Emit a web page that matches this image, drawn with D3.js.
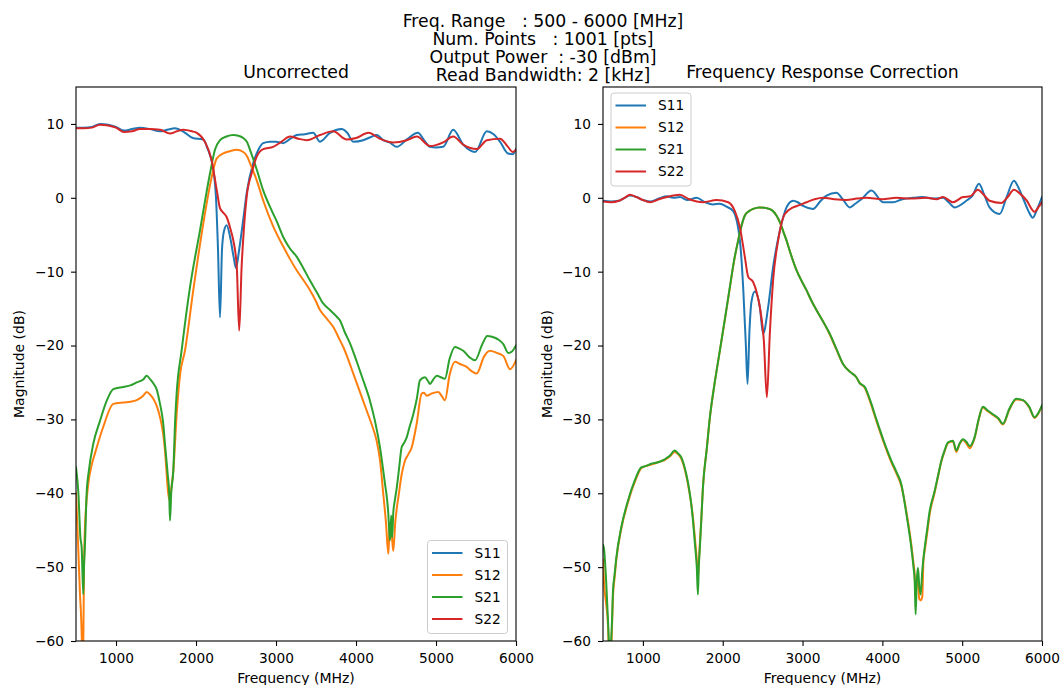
<!DOCTYPE html>
<html><head><meta charset="utf-8">
<script src="https://cdn.jsdelivr.net/npm/d3@7"></script>
<style>
body{margin:0;background:#fff}
text{font-family:"DejaVu Sans",sans-serif;fill:#000}
</style>
</head><body>
<svg id="chart" width="1062" height="685"></svg>
<script>
// ---------- chart texts ----------
const titleLines = [
  "Freq. Range   : 500 - 6000 [MHz]",
  "Num. Points   : 1001 [pts]",
  "Output Power  : -30 [dBm]",
  "Read Bandwidth: 2 [kHz]"
];
const panelTitles = ["Uncorrected", "Frequency Response Correction"];
const xLabel = "Frequency (MHz)";
const yLabel = "Magnitude (dB)";
const freqTicks = [1000, 2000, 3000, 4000, 5000, 6000];
const magTicks = [-60, -50, -40, -30, -20, -10, 0, 10];
const seriesNames = ["S11", "S12", "S21", "S22"];
const seriesColors = ["#1f77b4", "#ff7f0e", "#2ca02c", "#d62728"];

// ---------- data: [frequency MHz, magnitude dB] ----------
const uncS11 = [[500,9.5],[600,9.5],[700,9.6],[800,10.0],[900,9.9],[1000,9.6],[1100,9.1],[1200,9.3],[1300,9.5],[1425,9.3],[1550,9.0],[1640,9.2],[1737,9.4],[1850,8.9],[1960,8.1],[2090,7.9],[2150,6.5],[2210,4.2],[2250,0.0],[2275,-7],[2300,-16.2],[2325,-7],[2350,-4.5],[2383,-3.7],[2430,-5.5],[2470,-8],[2500,-9.5],[2540,-7],[2590,-3],[2633,0.6],[2715,4.7],[2780,6.5],[2840,7.4],[2925,7.6],[3000,7.6],[3090,7.4],[3180,8.0],[3260,8.5],[3360,8.6],[3465,8.8],[3550,7.6],[3675,8.8],[3820,9.3],[3890,8.8],[3965,7.6],[4090,7.8],[4180,8.2],[4260,8.5],[4340,7.8],[4420,7.5],[4510,6.9],[4635,7.9],[4775,8.8],[4850,7.8],[4925,6.9],[5000,6.8],[5090,6.9],[5215,9.2],[5340,7.2],[5490,6.2],[5635,9.0],[5720,8.6],[5800,7.6],[5900,6.0],[5960,5.9],[6000,6.6]];
const uncS12 = [[500,-40],[530,-48],[550,-53.7],[565,-57],[575,-61],[580,-65],[590,-62],[600,-50],[612,-44.6],[654,-38.7],[700,-36],[737,-34.6],[841,-31],[966,-27.9],[1091,-27.7],[1180,-27.6],[1258,-27.4],[1340,-26.8],[1383,-26.3],[1430,-26.7],[1466,-27.2],[1510,-28.2],[1550,-29.7],[1590,-32],[1612,-34.2],[1654,-40.1],[1675,-41],[1695,-39],[1716,-37],[1760,-29],[1800,-24],[1862,-20.7],[1966,-12.5],[2091,-3.5],[2196,2.8],[2258,5.3],[2341,6.0],[2420,6.3],[2508,6.5],[2591,6.2],[2640,5.6],[2675,4.7],[2758,2.4],[2841,-0.4],[2966,-3.9],[3091,-6.6],[3170,-8.2],[3258,-9.8],[3340,-11.1],[3425,-12.5],[3490,-13.8],[3550,-15.2],[3630,-16.3],[3716,-17.5],[3800,-19.3],[3841,-20.2],[3900,-21.8],[3966,-23.8],[4050,-26.3],[4133,-28.8],[4200,-30.8],[4258,-32.9],[4300,-35.5],[4341,-40.1],[4375,-44],[4404,-48.2],[4418,-45],[4430,-44],[4450,-46],[4466,-47.8],[4490,-44],[4510,-42],[4529,-40.6],[4570,-37.5],[4612,-35.6],[4650,-34.8],[4696,-33.8],[4758,-30.6],[4821,-26.5],[4850,-26.4],[4883,-26.8],[4946,-26.5],[5029,-26.3],[5070,-26.8],[5112,-27.4],[5170,-24],[5237,-22.2],[5300,-22.5],[5383,-22.9],[5450,-23.5],[5508,-23.8],[5600,-21.5],[5675,-20.7],[5760,-21],[5841,-21.4],[5925,-23.2],[6000,-22]];
const uncS21 = [[500,-36.5],[530,-40],[555,-46],[571,-47.4],[591,-53.7],[600,-50],[612,-47],[633,-40],[660,-37],[716,-33.3],[800,-30.2],[883,-27.5],[966,-25.9],[1091,-25.6],[1180,-25.4],[1258,-25.0],[1340,-24.6],[1383,-24.1],[1430,-24.6],[1466,-25.1],[1510,-26],[1550,-27.9],[1590,-30.5],[1612,-33.3],[1646,-37.4],[1665,-40],[1675,-43.7],[1690,-40],[1716,-37],[1740,-30],[1758,-26.5],[1820,-20.7],[1925,-12.1],[2050,-4.4],[2175,3.3],[2237,6.5],[2300,7.8],[2380,8.3],[2465,8.5],[2530,8.4],[2590,8.1],[2640,7.5],[2675,6.5],[2760,3.8],[2840,1.0],[2945,-1.7],[3010,-3.2],[3090,-5.3],[3170,-6.8],[3260,-8.0],[3340,-9.5],[3425,-11.2],[3510,-12.8],[3590,-14.3],[3675,-15.2],[3760,-16.1],[3800,-16.6],[3860,-18.2],[3925,-19.7],[4010,-22.2],[4090,-24.7],[4170,-27.3],[4237,-30.2],[4300,-33.8],[4362,-38.7],[4390,-41],[4404,-42.8],[4415,-45],[4425,-46.4],[4440,-43],[4452,-46],[4465,-42.8],[4485,-41],[4510,-39.2],[4540,-36.5],[4570,-33.8],[4600,-33.2],[4635,-32.4],[4670,-31],[4716,-29.3],[4760,-27.2],[4800,-24.7],[4862,-24.3],[4900,-24.8],[4925,-25.2],[4965,-24.6],[5010,-24.1],[5060,-24.3],[5112,-24.5],[5170,-21.8],[5237,-20.2],[5290,-20.4],[5341,-20.7],[5420,-21.6],[5487,-22.0],[5580,-19.8],[5640,-18.7],[5700,-18.8],[5780,-19.2],[5841,-19.8],[5904,-21.0],[5950,-20.8],[6000,-20]];
const uncS22 = [[500,9.4],[600,9.4],[700,9.5],[800,9.9],[900,9.8],[1000,9.5],[1100,8.9],[1200,9.0],[1300,9.3],[1425,9.3],[1550,9.2],[1675,8.7],[1760,9.0],[1840,9.2],[1950,9.0],[2010,8.8],[2110,7.6],[2195,5.1],[2260,1.0],[2300,-1.4],[2340,-2.0],[2383,-2.6],[2430,-4.2],[2465,-5.7],[2510,-9.4],[2540,-18.0],[2570,-9.4],[2600,-4],[2633,0.1],[2695,3.3],[2760,5.6],[2840,6.6],[2965,6.9],[3070,7.6],[3175,8.3],[3280,8.0],[3385,7.8],[3550,8.5],[3715,9.0],[3885,7.9],[4000,8.1],[4155,8.8],[4300,8.0],[4465,7.5],[4635,7.8],[4760,8.3],[4925,7.0],[5090,7.5],[5215,8.3],[5340,7.2],[5510,6.6],[5635,7.8],[5800,8.0],[5900,6.9],[5960,6.2],[6000,6.5]];

const corS11 = [[500,-0.4],[600,-0.5],[700,-0.4],[770,0.0],[838,0.3],[920,0.1],[1000,-0.3],[1088,-0.5],[1200,-0.1],[1300,0.2],[1380,0.0],[1464,0.1],[1560,-0.3],[1673,0.0],[1780,-0.6],[1880,-0.9],[1960,-0.8],[2048,-1.2],[2131,-1.8],[2215,-5.8],[2256,-12.1],[2290,-20],[2311,-25.2],[2335,-18],[2361,-14],[2402,-12.7],[2465,-14.8],[2506,-18.4],[2569,-14.8],[2631,-9.4],[2715,-4.5],[2799,-1.3],[2882,-0.4],[2940,-0.6],[3007,-1.1],[3132,-1.5],[3220,-0.5],[3300,0.3],[3425,0.7],[3510,-0.3],[3591,-1.3],[3660,-0.8],[3738,-0.2],[3863,1.0],[4008,-0.6],[4133,-0.6],[4250,-0.2],[4384,0.0],[4500,0.1],[4640,-0.1],[4759,0.0],[4830,-0.6],[4906,-1.3],[5052,-0.4],[5130,0.3],[5210,1.9],[5280,0.3],[5343,-1.3],[5469,-2.2],[5560,0.2],[5648,2.3],[5700,1.5],[5760,0.0],[5830,-1.8],[5885,-2.7],[5940,-1.5],[6000,0.1]];
const corS12 = [[500,-49],[512,-52],[540,-55],[563,-58],[575,-62],[583,-63],[600,-62],[613,-58],[625,-54],[645,-51.5],[667,-49],[729,-44.8],[813,-41.2],[897,-38.5],[979,-36.6],[1040,-36.3],[1104,-36.1],[1190,-35.8],[1272,-35.5],[1340,-35.0],[1397,-34.4],[1440,-34.7],[1480,-35.3],[1510,-36.2],[1543,-37.6],[1580,-39.7],[1605,-41.4],[1630,-43.6],[1655,-46.5],[1675,-49],[1689,-51.5],[1700,-49.5],[1710,-47.5],[1730,-43.8],[1752,-39.2],[1800,-34],[1839,-29.8],[1900,-25],[1964,-20.7],[2030,-16.3],[2089,-12.2],[2140,-8.7],[2193,-5.8],[2240,-3.6],[2277,-2.4],[2330,-1.8],[2381,-1.5],[2460,-1.3],[2548,-1.4],[2620,-1.7],[2673,-2.4],[2720,-3.4],[2757,-4.5],[2800,-5.8],[2840,-7.2],[2924,-9.8],[3049,-12.5],[3110,-13.9],[3174,-15.2],[3260,-16.8],[3341,-18.5],[3430,-20.7],[3507,-22.5],[3600,-23.6],[3674,-24.3],[3717,-25.1],[3779,-25.7],[3850,-27.7],[3925,-30.2],[4020,-33.2],[4113,-35.8],[4180,-37.4],[4238,-39],[4301,-42.5],[4363,-47],[4390,-49.5],[4405,-51],[4417,-54],[4430,-51.5],[4446,-52],[4462,-54.3],[4480,-54.5],[4500,-54],[4515,-49],[4530,-47.8],[4560,-45.5],[4593,-42.8],[4655,-39.9],[4700,-37.6],[4739,-35.7],[4780,-34.3],[4822,-33.2],[4884,-33.0],[4927,-34.4],[4970,-33.3],[5009,-32.8],[5050,-33.2],[5093,-33.9],[5156,-32.5],[5210,-29.9],[5260,-28.4],[5320,-28.9],[5385,-29.4],[5450,-29.9],[5510,-30.7],[5590,-28.7],[5677,-27.3],[5760,-27.4],[5840,-28.4],[5907,-29.8],[5950,-29.3],[6000,-28.2]];
const corS21 = [[500,-47],[512,-47.5],[540,-52],[563,-57.3],[575,-60.5],[583,-62],[595,-61],[613,-57.3],[625,-53.2],[645,-51],[667,-48.7],[729,-44.6],[813,-41],[897,-38.3],[979,-36.5],[1040,-36.3],[1104,-36.0],[1190,-35.8],[1272,-35.4],[1340,-34.9],[1397,-34.2],[1440,-34.6],[1480,-35.1],[1510,-36],[1543,-37.4],[1580,-39.5],[1605,-41.4],[1630,-44],[1655,-47.3],[1675,-50],[1689,-53.7],[1700,-50],[1710,-48],[1730,-44],[1752,-39.2],[1800,-34],[1839,-29.7],[1900,-25],[1964,-20.7],[2030,-16.2],[2089,-12.1],[2140,-8.6],[2193,-5.8],[2240,-3.6],[2277,-2.4],[2330,-1.8],[2381,-1.5],[2460,-1.3],[2548,-1.4],[2620,-1.7],[2673,-2.4],[2720,-3.4],[2757,-4.5],[2800,-5.8],[2840,-7.2],[2924,-9.8],[3049,-12.5],[3110,-13.9],[3174,-15.2],[3260,-16.8],[3341,-18.4],[3430,-20.6],[3507,-22.5],[3600,-23.6],[3674,-24.3],[3717,-25.1],[3779,-25.6],[3850,-27.5],[3925,-30.0],[4020,-33],[4113,-35.6],[4180,-37.2],[4238,-38.8],[4301,-42.8],[4363,-47.4],[4390,-50],[4405,-51.9],[4417,-56.4],[4430,-52],[4446,-50.1],[4462,-52.5],[4480,-53.7],[4500,-50.5],[4530,-47.4],[4560,-45],[4593,-42.4],[4655,-39.7],[4700,-37.5],[4739,-35.6],[4780,-34.2],[4822,-33.1],[4884,-32.9],[4927,-34.2],[4970,-33.2],[5009,-32.7],[5050,-33],[5093,-33.6],[5156,-32.4],[5210,-29.8],[5260,-28.3],[5320,-28.8],[5385,-29.3],[5450,-29.8],[5510,-30.6],[5590,-28.6],[5677,-27.2],[5760,-27.4],[5840,-28.3],[5907,-29.7],[5950,-29.2],[6000,-28.1]];
const corS22 = [[500,-0.5],[600,-0.6],[700,-0.4],[770,0.0],[838,0.4],[920,0.1],[1000,-0.3],[1088,-0.6],[1200,-0.2],[1300,0.1],[1380,0.3],[1464,0.4],[1580,-0.2],[1756,-0.6],[1923,-0.3],[2069,-0.6],[2152,-1.8],[2215,-4.0],[2277,-8.0],[2319,-10.7],[2381,-11.4],[2430,-13],[2465,-14.8],[2515,-19.3],[2553,-27.0],[2590,-18.4],[2631,-11.2],[2694,-5.8],[2778,-2.2],[2882,-1.3],[2960,-1.0],[3049,-0.6],[3150,-0.2],[3257,0.0],[3400,-0.2],[3550,-0.3],[3680,-0.1],[3800,0.0],[4000,-0.2],[4175,0.0],[4350,-0.1],[4550,0.0],[4680,-0.2],[4759,0.1],[4884,-0.6],[5010,0.1],[5100,0.2],[5197,1.1],[5270,0.4],[5343,-0.4],[5490,-0.7],[5570,0.1],[5648,1.1],[5720,0.6],[5803,-0.3],[5907,-1.9],[5960,-1.2],[6000,-0.6]];

// ---------- layout ----------
const svg = d3.select("#chart");
const yTop = 87, yBot = 641;
const panels = [
  {x0: 76, x1: 516, title: panelTitles[0], series: [uncS11, uncS12, uncS21, uncS22], legend: "lower right", ylabX: 19},
  {x0: 603, x1: 1042, title: panelTitles[1], series: [corS11, corS12, corS21, corS22], legend: "upper left", ylabX: 547}
];

// suptitle
titleLines.forEach((t, i) => {
  svg.append("text").attr("x", 543).attr("y", 26.5 + i * 18.3)
    .attr("text-anchor", "middle").style("font-size", "17.3px")
    .style("white-space", "pre").attr("xml:space", "preserve").text(t);
});

panels.forEach((p, pi) => {
  const x = d3.scaleLinear().domain([500, 6000]).range([p.x0, p.x1]);
  const y = d3.scaleLinear().domain([-60, 15]).range([yBot, yTop]);

  const clipId = "clip" + pi;
  svg.append("clipPath").attr("id", clipId).append("rect")
    .attr("x", p.x0).attr("y", yTop).attr("width", p.x1 - p.x0).attr("height", yBot - yTop);

  const line = d3.line().x(d => x(d[0])).y(d => y(d[1])).curve(d3.curveMonotoneX);
  const g = svg.append("g").attr("clip-path", `url(#${clipId})`);
  p.series.forEach((s, si) => {
    g.append("path").datum(s).attr("d", line)
      .attr("fill", "none").attr("stroke", seriesColors[si])
      .attr("stroke-width", 2).attr("stroke-linejoin", "round").attr("stroke-linecap", "square");
  });

  // axes
  const xAxis = d3.axisBottom(x).tickValues(freqTicks).tickFormat(d3.format("d"))
    .tickSize(5).tickPadding(7);
  const yAxis = d3.axisLeft(y).tickValues(magTicks).tickFormat(d3.format("d"))
    .tickSize(5).tickPadding(7);
  const gx = svg.append("g").attr("transform", `translate(0,${yBot})`).call(xAxis);
  const gy = svg.append("g").attr("transform", `translate(${p.x0},0)`).call(yAxis);
  [gx, gy].forEach(a => {
    a.select(".domain").remove();
    a.selectAll("line").attr("stroke", "#000").attr("stroke-width", 1.1);
    a.selectAll("text").style("font-size", "13.7px").style("font-family", '"DejaVu Sans",sans-serif').attr("fill", "#000");
  });

  // frame
  svg.append("rect").attr("x", p.x0).attr("y", yTop).attr("width", p.x1 - p.x0).attr("height", yBot - yTop)
    .attr("fill", "none").attr("stroke", "#000").attr("stroke-width", 1.1);

  // title
  svg.append("text").attr("x", (p.x0 + p.x1) / 2).attr("y", 78).attr("text-anchor", "middle")
    .style("font-size", "17.3px").text(p.title);

  // axis labels
  svg.append("text").attr("x", (p.x0 + p.x1) / 2).attr("y", 683).attr("text-anchor", "middle")
    .style("font-size", "14px").text(xLabel);
  svg.append("text").attr("transform", `translate(${p.ylabX},${(yTop + yBot) / 2}) rotate(-90)`)
    .attr("text-anchor", "middle").attr("dy", "0.35em").style("font-size", "14px").text(yLabel);

  // legend
  const lw = 80, lh = 93;
  const lx = p.legend === "lower right" ? p.x1 - 8.5 - lw : p.x0 + 8;
  const ly = p.legend === "lower right" ? yBot - 7.5 - lh : yTop + 6;
  const lg = svg.append("g").attr("transform", `translate(${lx},${ly})`);
  lg.append("rect").attr("width", lw).attr("height", lh).attr("rx", 3)
    .attr("fill", "#fff").attr("fill-opacity", 0.8).attr("stroke", "#cccccc").attr("stroke-width", 1);
  seriesNames.forEach((n, i) => {
    const yy = 12.5 + i * 22;
    lg.append("line").attr("x1", 4.5).attr("x2", 35).attr("y1", yy).attr("y2", yy)
      .attr("stroke", seriesColors[i]).attr("stroke-width", 2);
    lg.append("text").attr("x", 47).attr("y", yy).attr("dy", "0.36em").style("font-size", "13.7px").text(n);
  });
});
</script>
</body></html>
